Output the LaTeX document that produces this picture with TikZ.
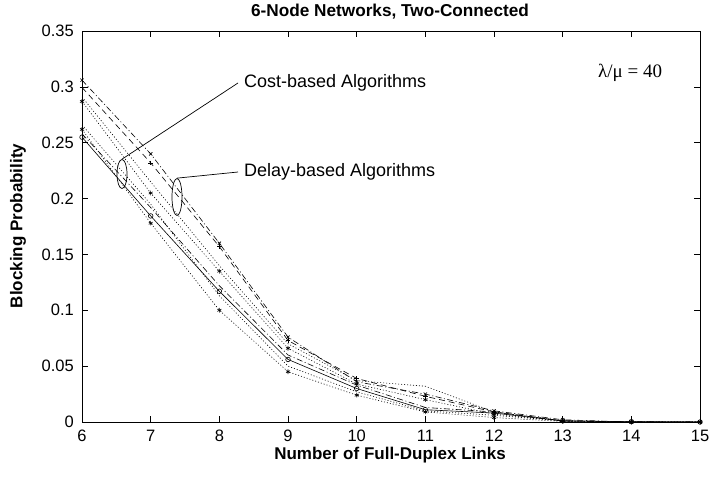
\documentclass[tikz,border=0pt]{standalone}
\usepackage{fontspec}
\setmainfont{Liberation Sans}
\newfontfamily\greekserif{Liberation Serif}
\usetikzlibrary{shapes.geometric,plotmarks}
\tikzset{
  ticklab/.style={font=\fontsize{16.5}{19}\selectfont, inner sep=0pt},
  axlab/.style={font=\bfseries\fontsize{17}{20}\selectfont, inner sep=0pt},
  titlelab/.style={font=\bfseries\fontsize{17.2}{20}\selectfont, inner sep=0pt},
  annot/.style={font=\fontsize{18}{21}\selectfont, inner sep=0pt, anchor=west},
  bracket/.style={draw, ellipse, inner sep=0pt, minimum width=10pt, line width=0.7pt},
  leader/.style={line width=0.7pt},
  curve/.style={line width=0.6pt, mark size=2.3pt, mark options={solid}},
  cdash/.style={curve, dash pattern=on 6pt off 4pt},
  cdot/.style={curve, dash pattern=on 1pt off 2pt},
  cdashdot/.style={curve, dash pattern=on 6pt off 2.5pt on 1pt off 2.5pt},
  frameline/.style={line width=0.7pt},
}
\begin{document}
\begin{tikzpicture}[x=1pt,y=1pt]
\useasboundingbox (0,0) rectangle (712,480);
\fill[white] (0,0) rectangle (712,480);
\begin{scope}[shift={(-330pt,58pt)}, x=68.67pt, y=1117pt]
  % curves
  \draw[cdot] plot coordinates {(6,0.266)(7,0.195)(8,0.113)(9,0.050)(10,0.027)(11,0.010)(12,0.006)(13,0.001)(14,0)(15,0)};
  \draw[cdot] plot[mark=asterisk] coordinates {(6,0.262)(7,0.178)(8,0.100)(9,0.045)(10,0.024)(11,0.009)(12,0.004)(13,0.0005)(14,0)(15,0)};
  \draw[cdashdot] plot coordinates {(6,0.258)(7,0.192)(8,0.122)(9,0.060)(10,0.033)(11,0.013)(12,0.009)(13,0.001)(14,0)(15,0)};
  \draw[curve] plot[mark=o] coordinates {(6,0.255)(7,0.1845)(8,0.117)(9,0.056)(10,0.030)(11,0.011)(12,0.008)(13,0.001)(14,0.0003)(15,0)};
  \draw[cdash] plot[mark=+] coordinates {(6,0.2995)(7,0.232)(8,0.157)(9,0.073)(10,0.039)(11,0.023)(12,0.009)(13,0.001)(14,0)(15,0)};
  \draw[cdashdot] plot[mark=x] coordinates {(6,0.306)(7,0.240)(8,0.160)(9,0.076)(10,0.036)(11,0.025)(12,0.010)(13,0.002)(14,0)(15,0)};
  \draw[cdot] plot coordinates {(6,0.291)(7,0.215)(8,0.140)(9,0.070)(10,0.037)(11,0.032)(12,0.009)(13,0.001)(14,0)(15,0)};
  \draw[cdot] plot[mark=asterisk] coordinates {(6,0.287)(7,0.205)(8,0.135)(9,0.066)(10,0.034)(11,0.020)(12,0.007)(13,0.001)(14,0)(15,0)};
  % frame and ticks
  \draw[frameline] (6,0) rectangle (15,0.35);
  \foreach \x in {7,...,14} {
    \draw[frameline] (\x,0) -- ++(0,6pt);
    \draw[frameline] (\x,0.35) -- ++(0,-6pt);
  }
  \foreach \y in {0.05,0.1,0.15,0.2,0.25,0.3} {
    \draw[frameline] (6,\y) -- ++(6pt,0);
    \draw[frameline] (15,\y) -- ++(-6pt,0);
  }
  \foreach \x in {6,...,15}
    \node[ticklab, anchor=north, yshift=-8pt] (xt\x) at (\x,0) {\x};
  \foreach \y/\t [count=\i] in {0/0,0.05/0.05,0.1/0.1,0.15/0.15,0.2/0.2,0.25/0.25,0.3/0.3,0.35/0.35}
    \node[ticklab, anchor=east, xshift=-8pt] (yt\i) at (6,\y) {\t};
\end{scope}
% labels
\node[titlelab] (title) at (390,468) {6-Node Networks, Two-Connected};
\node[axlab] (xlab) at (390,25) {Number of Full-Duplex Links};
\node[axlab, rotate=90] (ylab) at (18,254) {Blocking Probability};
\node[annot, font=\greekserif\fontsize{19}{22}\selectfont] (lam) at (598,407) {λ/μ = 40};
% annotations
\node[bracket, minimum height=29pt] (ce) at (122,306) {};
\node[bracket, minimum height=37pt] (de) at (177,283) {};
\node[annot] (cost) at (244,397) {Cost-based Algorithms};
\node[annot] (delay) at (244,308) {Delay-based Algorithms};
\draw[leader] (ce.north) -- ([xshift=-6pt]cost.west);
\draw[leader] (de.north) -- ([xshift=-6pt]delay.west);
\end{tikzpicture}
\end{document}
